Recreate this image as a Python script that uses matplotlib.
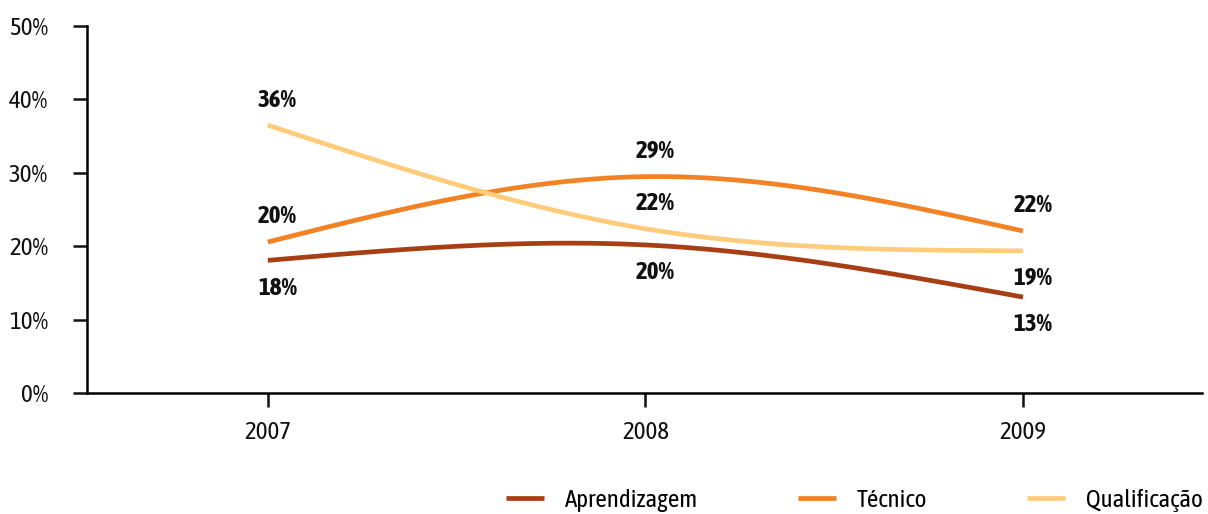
import numpy as np
import matplotlib
matplotlib.use("Agg")
import matplotlib.pyplot as plt
from matplotlib import font_manager
from matplotlib.ticker import PercentFormatter

# the chart uses a condensed face; take one that also has a bold weight
fonts = font_manager.fontManager.ttflist
bold_names = {f.name for f in fonts if f.weight in (700, 'bold')}
cands = sorted({f.name for f in fonts if ('Narrow' in f.name or 'Condensed' in f.name)
                and not any(w in f.name for w in ('Extra', 'Semi', 'Ultra'))})
cands = [n for n in cands if n in bold_names] + [n for n in cands if n not in bold_names]
if cands:
    plt.rcParams['font.family'] = [cands[0], 'DejaVu Sans']
    fs = 18
else:
    plt.rcParams['font.family'] = ['Liberation Sans', 'DejaVu Sans']
    fs = 15

# data (percent)
years = ['2007', '2008', '2009']
series_names = ['Aprendizagem', 'Técnico', 'Qualificação']
aprendizagem = [18.1, 20.2, 13.1]
tecnico = [20.6, 29.5, 22.1]
qualificacao = [36.5, 22.4, 19.4]
colors = ['#A83F14', '#F28223', '#FFCC7C']

# where each value label sits: 1 above the line, -1 below
label_side = [[-1, -1, -1], [1, 1, 1], [1, 1, -1]]


def smooth(y, n=80):
    # natural cubic spline through equally spaced points
    y = np.asarray(y, dtype=float)
    k = len(y)
    A = np.zeros((k, k))
    b = np.zeros(k)
    A[0, 0] = A[-1, -1] = 1
    for i in range(1, k - 1):
        A[i, i - 1:i + 2] = [1, 4, 1]
        b[i] = 6 * (y[i - 1] - 2 * y[i] + y[i + 1])
    m = np.linalg.solve(A, b)
    xs, ys = [], []
    for i in range(k - 1):
        t = np.linspace(0, 1, n)
        s = ((1 - t) * y[i] + t * y[i + 1]
             + ((1 - t) ** 3 - (1 - t)) * m[i] / 6
             + (t ** 3 - t) * m[i + 1] / 6)
        xs.append(i + t)
        ys.append(s)
    return np.concatenate(xs), np.concatenate(ys)


fig = plt.figure(figsize=(12.08, 5.14), dpi=100)
ax = fig.add_axes([0.072, 0.2348, 0.923, 0.7146])

x = np.arange(len(years))
all_series = [aprendizagem, tecnico, qualificacao]
for vals, name, col, sides in zip(all_series, series_names, colors, label_side):
    xs, ys = smooth(vals)
    ax.plot(xs, ys, color=col, lw=3.4, label=name, solid_capstyle='butt')
    for xi, v, sd in zip(x, vals, sides):
        ax.annotate(f"{int(v)}%", (xi, v), xytext=(7, 18 * sd + (-2 if sd < 0 else 0)),
                    textcoords='offset points', ha='center', va='center',
                    fontsize=fs, fontweight='bold', color='#111111')

ax.set_xlim(-0.479, 2.474)
ax.set_ylim(0, 50)
ax.set_xticks(x)
ax.set_xticklabels(years)
ax.set_yticks(np.arange(0, 51, 10))
ax.yaxis.set_major_formatter(PercentFormatter(decimals=0))

for s in ['top', 'right']:
    ax.spines[s].set_visible(False)
for s in ['left', 'bottom']:
    ax.spines[s].set_linewidth(1.8)
ax.tick_params(axis='both', length=10, width=1.8, labelsize=fs, colors='#111111')
ax.tick_params(axis='y', pad=18)
ax.tick_params(axis='x', pad=10)

fig.legend(loc='center right', bbox_to_anchor=(1.006, 0.027), ncol=3, frameon=False,
           fontsize=fs, handlelength=1.5, handletextpad=0.85, columnspacing=4.0,
           borderaxespad=0.1)

fig.savefig('out.png', dpi=100)
